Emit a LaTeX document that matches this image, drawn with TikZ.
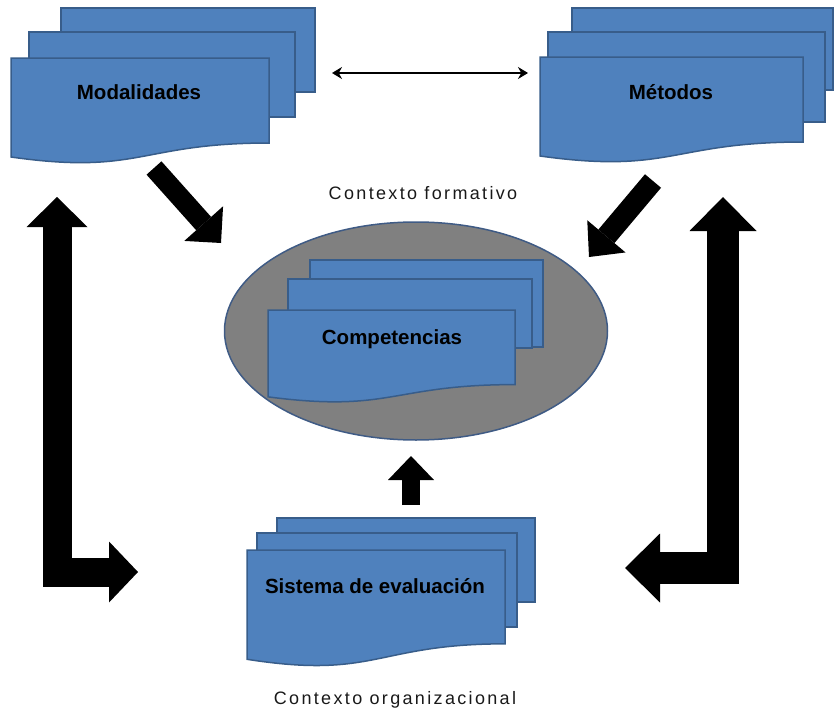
\documentclass[tikz,border=0pt]{standalone}
\usepackage{fontspec}
\setmainfont{Liberation Sans}
\newfontfamily\ctxfont[LetterSpace=13]{Liberation Sans}
\usetikzlibrary{arrows.meta,shapes.geometric}
\definecolor{docfill}{HTML}{4F81BD}
\definecolor{docedge}{HTML}{385D8A}
\definecolor{ctxgray}{HTML}{808080}
\definecolor{ctxedge}{HTML}{3F5B85}

% one sheet with the wavy "document" bottom:
% #1 left, #2 right, #3 top, #4 height
\newcommand\wavesheet[4]{%
  \pgfmathsetmacro\wsR{#3+0.802*#4}%
  \pgfmathsetmacro\wsL{#3+0.934*#4}%
  \pgfmathsetmacro\wsC{#3+1.1075*#4}%
  \pgfmathsetmacro\wsM{(#1+#2)/2}%
  \path[sheet] (#1,#3) -- (#2,#3) -- (#2,\wsR)
    .. controls (\wsM,\wsR) and (\wsM,\wsC) .. (#1,\wsL) -- cycle;}

\begin{document}
\begin{tikzpicture}[x=1pt,y=-1pt,
  sheet/.style={fill=docfill,draw=docedge,line width=1.5pt,line join=miter},
  doclabel/.style={font=\fontsize{20.5}{24}\selectfont\bfseries,text=black,inner sep=0pt,anchor=base},
  ctxlabel/.style={font=\ctxfont\fontsize{18}{21}\selectfont,text=black!90,inner sep=0pt,anchor=base},
  blockarrow/.style={draw=black,line width=#1,line join=miter,line cap=butt},
]
\useasboundingbox (0,0) rectangle (836,712);

% ---- context ellipse ----
\node[ellipse,draw=ctxedge,fill=ctxgray,line width=1.5pt,inner sep=0pt,
      minimum width=383pt,minimum height=218pt] (ctx) at (416,331) {};

% ---- Modalidades stack ----
\path[sheet] (61,8) rectangle (315,92);
\path[sheet] (29,32) rectangle (295,117);
\wavesheet{11}{269}{58}{106}
\node[doclabel] (mod) at (139,99) {Modalidades};

% ---- Métodos stack ----
\path[sheet] (572,8) rectangle (833,90);
\path[sheet] (548,32) rectangle (825,122);
\wavesheet{540}{803}{57}{106}
\node[doclabel] (met) at (671,99) {Métodos};

% ---- Competencias stack ----
\path[sheet] (310,260) rectangle (543,347);
\path[sheet] (288,279) rectangle (532,348);
\wavesheet{268}{515}{310}{93}
\node[doclabel] (comp) at (392,344) {Competencias};

% ---- Sistema de evaluación stack ----
\path[sheet] (277,518) rectangle (535,602);
\path[sheet] (257,533) rectangle (517,627);
\wavesheet{247}{505}{550}{117}
\node[doclabel] (sis) at (375,593) {Sistema de evaluación};

% ---- context labels ----
\node[ctxlabel] (formativo) at (423,199) {Contexto formativo};
\node[ctxlabel] (organizacional) at (395,704) {Contexto organizacional};

% ---- connector end points ----
\coordinate (modR) at (332,73);
\coordinate (metL) at (528,73);
\coordinate (modOut) at (154,168);
\coordinate (ctxInL) at (221,243);
\coordinate (metOut) at (653,181);
\coordinate (ctxInR) at (589,257);
\coordinate (sisOut) at (411,505);
\coordinate (ctxInB) at (411,456);
\coordinate (lTop) at (57,197);
\coordinate (lCorner) at (57,572);
\coordinate (lEnd) at (138,572);
\coordinate (rTop) at (723,197);
\coordinate (rCorner) at (723,568);
\coordinate (rEnd) at (625,568);

% ---- connectors ----
\draw[line width=2pt,{Stealth[length=10pt,width=12pt]}-{Stealth[length=10pt,width=12pt]}]
  (modR) -- (metL);
\draw[blockarrow=20pt,-{Triangle[width=52pt,length=26pt,line width=0pt]}]
  (modOut) -- (ctxInL);
\draw[blockarrow=21pt,-{Triangle[width=50pt,length=27pt,line width=0pt]}]
  (metOut) -- (ctxInR);
\draw[blockarrow=18pt,-{Triangle[width=46pt,length=24pt,line width=0pt]}]
  (sisOut) -- (ctxInB);
\draw[blockarrow=29pt,{Triangle[width=61pt,length=30pt,line width=0pt]}-{Triangle[width=61pt,length=29pt,line width=0pt]}]
  (lTop) -- (lCorner) -- (lEnd);
\draw[blockarrow=32pt,{Triangle[width=67pt,length=34pt,line width=0pt]}-{Triangle[width=69pt,length=35pt,line width=0pt]}]
  (rTop) -- (rCorner) -- (rEnd);
\end{tikzpicture}
\end{document}
